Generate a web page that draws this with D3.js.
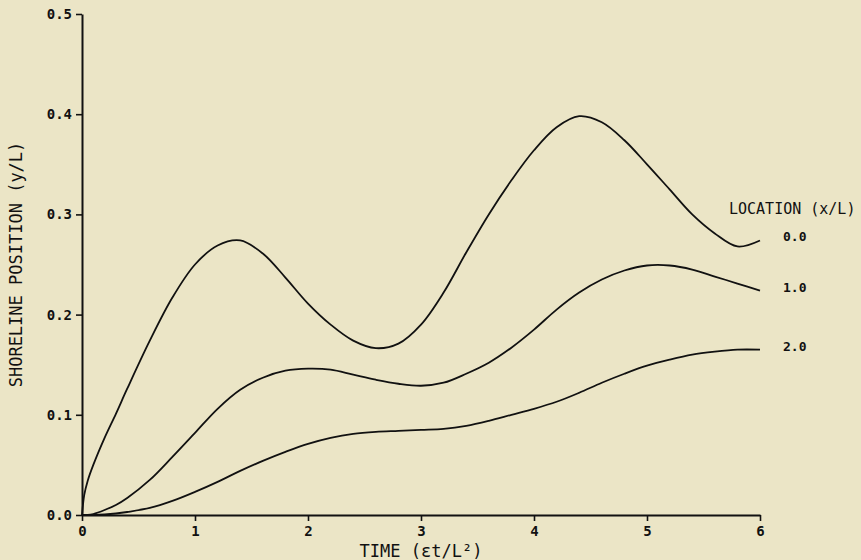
<!DOCTYPE html>
<meta charset="utf-8">
<script src="https://d3js.org/d3.v7.min.js"></script>
<style>
  body { margin: 0; background: #ebe5c6; }
  text { font-family: "DejaVu Sans Mono", monospace; fill: #111; }
</style>
<div id="my_dataviz"></div>
<script>

// time grid (et/L^2) shared by the three curves
var times = [0, 0.02, 0.05, 0.1, 0.2, 0.3, 0.4, 0.6, 0.8, 1.0, 1.2, 1.4, 1.6, 1.8,
             2.0, 2.2, 2.4, 2.6, 2.8, 3.0, 3.2, 3.4, 3.6, 3.8, 4.0, 4.2, 4.4, 4.6,
             4.8, 5.0, 5.2, 5.4, 5.6, 5.8, 6.0];

// shoreline position y/L at x/L = 0.0, 1.0, 2.0
var loc00 = [0, 0.02, 0.034, 0.05, 0.077, 0.101, 0.126, 0.174, 0.217, 0.25, 0.269, 0.274, 0.261, 0.237,
             0.211, 0.19, 0.174, 0.1665, 0.171, 0.19, 0.222, 0.262, 0.3, 0.334, 0.364, 0.387, 0.398, 0.392,
             0.374, 0.35, 0.325, 0.3, 0.281, 0.268, 0.274];
var loc10 = [0, 0, 0, 0.001, 0.005, 0.01, 0.017, 0.035, 0.058, 0.082, 0.106, 0.125, 0.137, 0.144,
             0.146, 0.145, 0.14, 0.135, 0.131, 0.129, 0.132, 0.141, 0.152, 0.167, 0.185, 0.205, 0.222, 0.235,
             0.244, 0.249, 0.249, 0.245, 0.238, 0.231, 0.224];
var loc20 = [0, 0, 0, 0, 0.0005, 0.0015, 0.003, 0.007, 0.014, 0.023, 0.033, 0.044, 0.054, 0.063,
             0.071, 0.077, 0.081, 0.083, 0.084, 0.085, 0.086, 0.089, 0.094, 0.1, 0.106, 0.113, 0.122, 0.132,
             0.141, 0.149, 0.155, 0.16, 0.163, 0.165, 0.165];

var seriesNames = ["0.0", "1.0", "2.0"];
var xTicks = [0, 1, 2, 3, 4, 5, 6];
var yTicks = [0.0, 0.1, 0.2, 0.3, 0.4, 0.5];

var series = [loc00, loc10, loc20].map(function(vals, i) {
  return { name: seriesNames[i], values: vals.map(function(v, j) { return { t: times[j], y: v }; }) };
});

var svg = d3.select("#my_dataviz")
  .append("svg")
    .attr("width", 861)
    .attr("height", 560);

var x = d3.scaleLinear().domain([0, 6]).range([82, 760]);
var y = d3.scaleLinear().domain([0, 0.5]).range([515, 14]);

// X axis
var gx = svg.append("g")
  .attr("transform", "translate(0," + y(0) + ")")
  .call(d3.axisBottom(x).tickValues(xTicks).tickFormat(d3.format("d"))
        .tickSize(6).tickSizeOuter(0).tickPadding(5));

// Y axis
var gy = svg.append("g")
  .attr("transform", "translate(" + x(0) + ",0)")
  .call(d3.axisLeft(y).tickValues(yTicks).tickFormat(d3.format(".1f"))
        .tickSize(6).tickSizeOuter(0).tickPadding(4));

[gx, gy].forEach(function(g) {
  g.select(".domain").attr("stroke", "#111").attr("stroke-width", 2);
  g.selectAll(".tick line").attr("stroke", "#111").attr("stroke-width", 1.6);
  g.selectAll(".tick text")
    .attr("fill", "#111")
    .style("font-family", "'DejaVu Sans Mono', monospace")
    .style("font-size", "14px")
    .style("font-weight", "bold");
});

// axis titles
svg.append("text")
  .attr("x", (x(0) + x(6)) / 2)
  .attr("y", 557)
  .attr("text-anchor", "middle")
  .style("font-size", "17px")
  .text("TIME (εt/L²)");

svg.append("text")
  .attr("transform", "translate(22," + (y(0) + y(0.5)) / 2 + ") rotate(-90)")
  .attr("text-anchor", "middle")
  .style("font-size", "17px")
  .text("SHORELINE POSITION (y/L)");

// curves
var line = d3.line()
  .x(function(d) { return x(d.t); })
  .y(function(d) { return y(d.y); })
  .curve(d3.curveCatmullRom.alpha(0.5));

svg.selectAll(".curve")
  .data(series)
  .enter()
  .append("path")
    .attr("class", "curve")
    .attr("d", function(d) { return line(d.values); })
    .attr("fill", "none")
    .attr("stroke", "#111")
    .attr("stroke-width", 1.8);

// location labels
svg.append("text")
  .attr("x", 729)
  .attr("y", 214)
  .style("font-size", "15px")
  .text("LOCATION (x/L)");

svg.selectAll(".lab")
  .data(series)
  .enter()
  .append("text")
    .attr("class", "lab")
    .attr("x", 783)
    .attr("y", function(d) { return y(d.values[d.values.length - 1].y) + 1; })
    .style("font-size", "13px")
    .style("font-weight", "bold")
    .text(function(d) { return d.name; });

</script>
